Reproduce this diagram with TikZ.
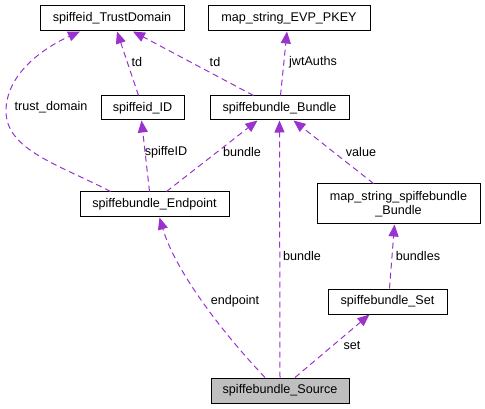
\documentclass[tikz,border=0pt]{standalone}
\usepackage{fontspec}
\setmainfont{Liberation Sans}
\usetikzlibrary{arrows.meta}
\definecolor{edgepurple}{HTML}{9A32CD}
\begin{document}
\begin{tikzpicture}[x=1pt,y=-1pt,
        box/.style={draw=black,line width=1pt,inner sep=0pt,font=\fontsize{12.6}{14}\selectfont},
        rel/.style={draw=edgepurple,line width=1pt,dash pattern=on 6pt off 4pt,
            -{Triangle[length=12pt,width=10pt,fill=edgepurple]}},
        lbl/.style={inner sep=0pt,font=\fontsize{12.6}{14}\selectfont}]
        \useasboundingbox (0,0) rectangle (485,409);
        % top row
        \node[box,minimum width=144pt,minimum height=25pt] (trustdomain) at (112,18.5) {spiffeid\_TrustDomain};
        \node[box,minimum width=162pt,minimum height=25pt] (evpkey) at (289,18.5) {map\_string\_EVP\_PKEY};
        % second row
        \node[box,minimum width=83pt,minimum height=24pt] (spiffeid) at (142.5,108) {spiffeid\_ID};
        \node[box,minimum width=139pt,minimum height=24pt] (bundle) at (279.5,108) {spiffebundle\_Bundle};
        % middle
        \node[box,minimum width=149pt,minimum height=25pt] (endpoint) at (154.5,204.5) {spiffebundle\_Endpoint};
        \node[box,minimum width=163pt,minimum height=40pt,align=center] (mapbundle) at (398.5,204) {map\_string\_spiffebundle\\\_Bundle};
        \node[box,minimum width=119pt,minimum height=25pt] (set) at (387.5,301.5) {spiffebundle\_Set};
        % the class itself (grey)
        \node[box,fill=black!25,minimum width=138pt,minimum height=25pt] (source) at (280,390.5) {spiffebundle\_Source};
        % Source -> members
        \draw[rel] ([xshift=-15pt]source.north) .. controls (220,330) and (175,270) .. ([xshift=5pt]endpoint.south);
        \draw[rel] (source.north) -- (bundle.south);
        \draw[rel] ([xshift=15pt]source.north) -- ([xshift=-18pt]set.north |- set.south);
        \node[lbl] (lendpoint) at (235,301) {endpoint};
        \node[lbl] (lbundlea) at (302,256) {bundle};
        \node[lbl] (lset) at (352,345) {set};
        % Set -> map -> Bundle
        \draw[rel] ([xshift=2pt]set.north) -- ([xshift=-4pt]mapbundle.south);
        \node[lbl] (lbundles) at (418,256) {bundles};
        \draw[rel] ([xshift=-25pt]mapbundle.north) -- ([xshift=14pt]bundle.south);
        \node[lbl] (lvalue) at (361,152) {value};
        % Endpoint -> Bundle, ID, TrustDomain
        \draw[rel] ([xshift=12pt]endpoint.north) -- ([xshift=-22pt]bundle.south);
        \node[lbl] (lbundleb) at (242,152) {bundle};
        \draw[rel] ([xshift=-5pt]endpoint.north) -- ([xshift=-1pt]spiffeid.south);
        \node[lbl] (lspiffeid) at (166,152) {spiffeID};
        \draw[rel] ([xshift=-44pt]endpoint.north) .. controls (60,165) and (5,150) .. (6,110)
            .. controls (7,70) and (50,45) .. ([xshift=-32pt]trustdomain.south);
        \node[lbl] (ltrust) at (51,107) {trust\_domain};
        % ID -> TrustDomain
        \draw[rel] ([xshift=-4pt]spiffeid.north) -- ([xshift=5pt]trustdomain.south);
        \node[lbl] (ltda) at (137,62) {td};
        % Bundle -> TrustDomain, map
        \draw[rel] ([xshift=-26pt]bundle.north) -- ([xshift=21pt]trustdomain.south);
        \node[lbl] (ltdb) at (215,62) {td};
        \draw[rel] ([xshift=1pt]bundle.north) -- ([xshift=-2pt]evpkey.south);
        \node[lbl] (ljwt) at (313,62) {jwtAuths};
    \end{tikzpicture}
\end{document}
